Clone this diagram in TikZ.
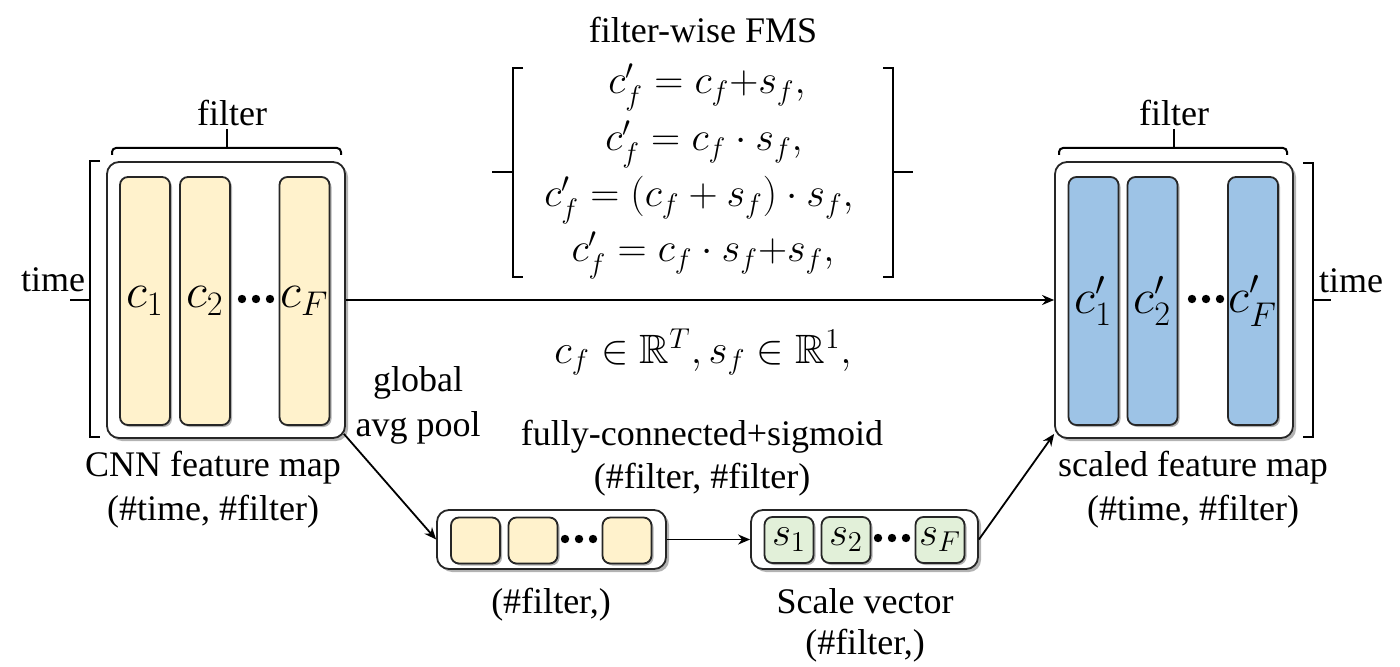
\RequirePackage{fix-cm}
\documentclass[tikz,border=0pt]{standalone}
\usepackage{fontspec}
\setmainfont{Liberation Serif}
\usepackage{amssymb}
\usetikzlibrary{shadows,arrows.meta}
\definecolor{yel}{HTML}{FFF2CC}
\definecolor{blu}{HTML}{9DC3E6}
\definecolor{grn}{HTML}{E2F0D9}
\begin{document}
\begin{tikzpicture}[x=0.5pt,y=-0.5pt,
  every node/.style={font=\fontsize{18}{21}\selectfont, inner sep=0pt},
  outer/.style={draw=black!85, line width=0.9pt, fill=white, rounded corners=6pt,
    drop shadow={shadow xshift=1.5pt, shadow yshift=-1.5pt, fill=black!50, opacity=0.6}},
  colbox/.style={draw=black!85, line width=0.9pt, rounded corners=4pt,
    minimum width=25pt, minimum height=124pt, font=\fontsize{24.5}{28}\selectfont,
    drop shadow={shadow xshift=1pt, shadow yshift=-1pt, fill=black!50, opacity=0.6}},
  cell/.style={draw=black!85, line width=0.9pt, rounded corners=4pt,
    minimum width=24.5pt, minimum height=23pt, font=\fontsize{20.5}{24}\selectfont,
    drop shadow={shadow xshift=1pt, shadow yshift=-1pt, fill=black!50, opacity=0.6}},
  eq/.style={anchor=base, font=\fontsize{20.2}{24}\selectfont, text height=12pt, text depth=4.5pt},
  arr/.style={-{Stealth[length=6pt,width=5pt]}, line width=0.9pt},
  brk/.style={line width=1pt}
]
\useasboundingbox (0,0) rectangle (1400,667);

% ---- left feature map
\node[outer, minimum width=119pt, minimum height=138pt] (L) at (226,300) {};
\node[colbox, fill=yel] (c1) at (145,301) {$c_1$};
\node[colbox, fill=yel] (c2) at (205,301) {$c_2$};
\node[colbox, fill=yel] (cF) at (304.5,301) {$c_F$};
\foreach \x in {242,256,270} \fill (\x,299) circle (2.1pt);

% ---- right feature map
\node[outer, minimum width=119pt, minimum height=138pt] (R) at (1174,300) {};
\node[colbox, fill=blu] (d1) at (1093.5,301) {$c'_1$};
\node[colbox, fill=blu] (d2) at (1152.5,301) {$c'_2$};
\node[colbox, fill=blu] (dF) at (1253,301) {$c'_F$};
\foreach \x in {1192,1206,1220} \fill (\x,299) circle (2.1pt);

% ---- pooled vector
\node[outer, minimum width=114.5pt, minimum height=29.5pt] (V1) at (551.5,539.5) {};
\node[cell, fill=yel] (p1) at (475.5,540.5) {};
\node[cell, fill=yel] (p2) at (533,540.5) {};
\node[cell, fill=yel] (pF) at (627,540.5) {};
\foreach \x in {565,579,593} \fill (\x,539) circle (2.1pt);

% ---- scale vector
\node[outer, minimum width=113.5pt, minimum height=29.5pt] (V2) at (864.5,539.5) {};
\node[cell, fill=grn] (s1) at (789,540) {$s_1$};
\node[cell, fill=grn] (s2) at (846,540) {$s_2$};
\node[cell, fill=grn] (sF) at (940,540) {$s_F$};
\foreach \x in {878,892,906} \fill (\x,538) circle (2.1pt);

% ---- connectors
\draw[arr] (L) -- (R);
\draw[arr] ([shift={(-1pt,2.5pt)}]L.south east) -- (V1.west);
\draw[arr] (V1) -- (V2);
\draw[arr] (V2.east) -- ([yshift=2.5pt]R.south west);

% ---- brackets
\draw[brk, rounded corners=2pt] (112,155) -- (112,148) -- (341,148) -- (341,155);
\draw[brk] (227,148) -- (227,129);
\draw[brk, rounded corners=2pt] (1059,155) -- (1059,148) -- (1287,148) -- (1287,155);
\draw[brk] (1174,148) -- (1174,129);
\draw[brk] (100,161) -- (90,161) -- (90,437) -- (100,437);
\draw[brk] (90,300) -- (70,300);
\draw[brk] (1303,163) -- (1313,163) -- (1313,437) -- (1303,437);
\draw[brk] (1313,300) -- (1331,300);
\draw[brk] (523,68) -- (513,68) -- (513,277) -- (523,277);
\draw[brk] (513,172) -- (492,172);
\draw[brk] (883,68) -- (893,68) -- (893,277) -- (883,277);
\draw[brk] (893,172) -- (913,172);

% ---- texts
\node (tf1) at (232,113) {filter};
\node (tf2) at (1174,113) {filter};
\node (tt1) at (53,280) {time};
\node (tt2) at (1351,281) {time};
\node (fms) at (703,30) {filter-wise FMS};
\node[eq] (e1) at (707,94) {$c'_f = c_f {+} s_f,$};
\node[eq] (e2) at (704,151) {$c'_f = c_f \cdot s_f,$};
\node[eq] (e3) at (699,207) {$c'_f = (c_f + s_f)\cdot s_f,$};
\node[eq] (e4) at (703,262) {$c'_f = c_f \cdot s_f {+} s_f,$};
\node[font=\fontsize{20.5}{23}\selectfont] (dom) at (703,352) {$c_f \in \mathbb{R}^T, s_f \in \mathbb{R}^1,$};
\node[align=center, font=\fontsize{18}{22.5}\selectfont] (gap) at (418,405) {global\\avg pool};
\node[align=center, font=\fontsize{18}{21.5}\selectfont] (fc) at (702,458) {fully-connected+sigmoid\\(\#filter, \#filter)};
\node[align=center, font=\fontsize{18}{22}\selectfont] (cnn) at (213,490) {CNN feature map\\(\#time, \#filter)};
\node[align=center, font=\fontsize{18}{22}\selectfont] (sfm) at (1193,490) {scaled feature map\\(\#time, \#filter)};
\node (pl) at (551,605) {(\#filter,)};
\node[align=center, font=\fontsize{18}{20.5}\selectfont] (sv) at (865,625) {Scale vector\\(\#filter,)};
\end{tikzpicture}
\end{document}
